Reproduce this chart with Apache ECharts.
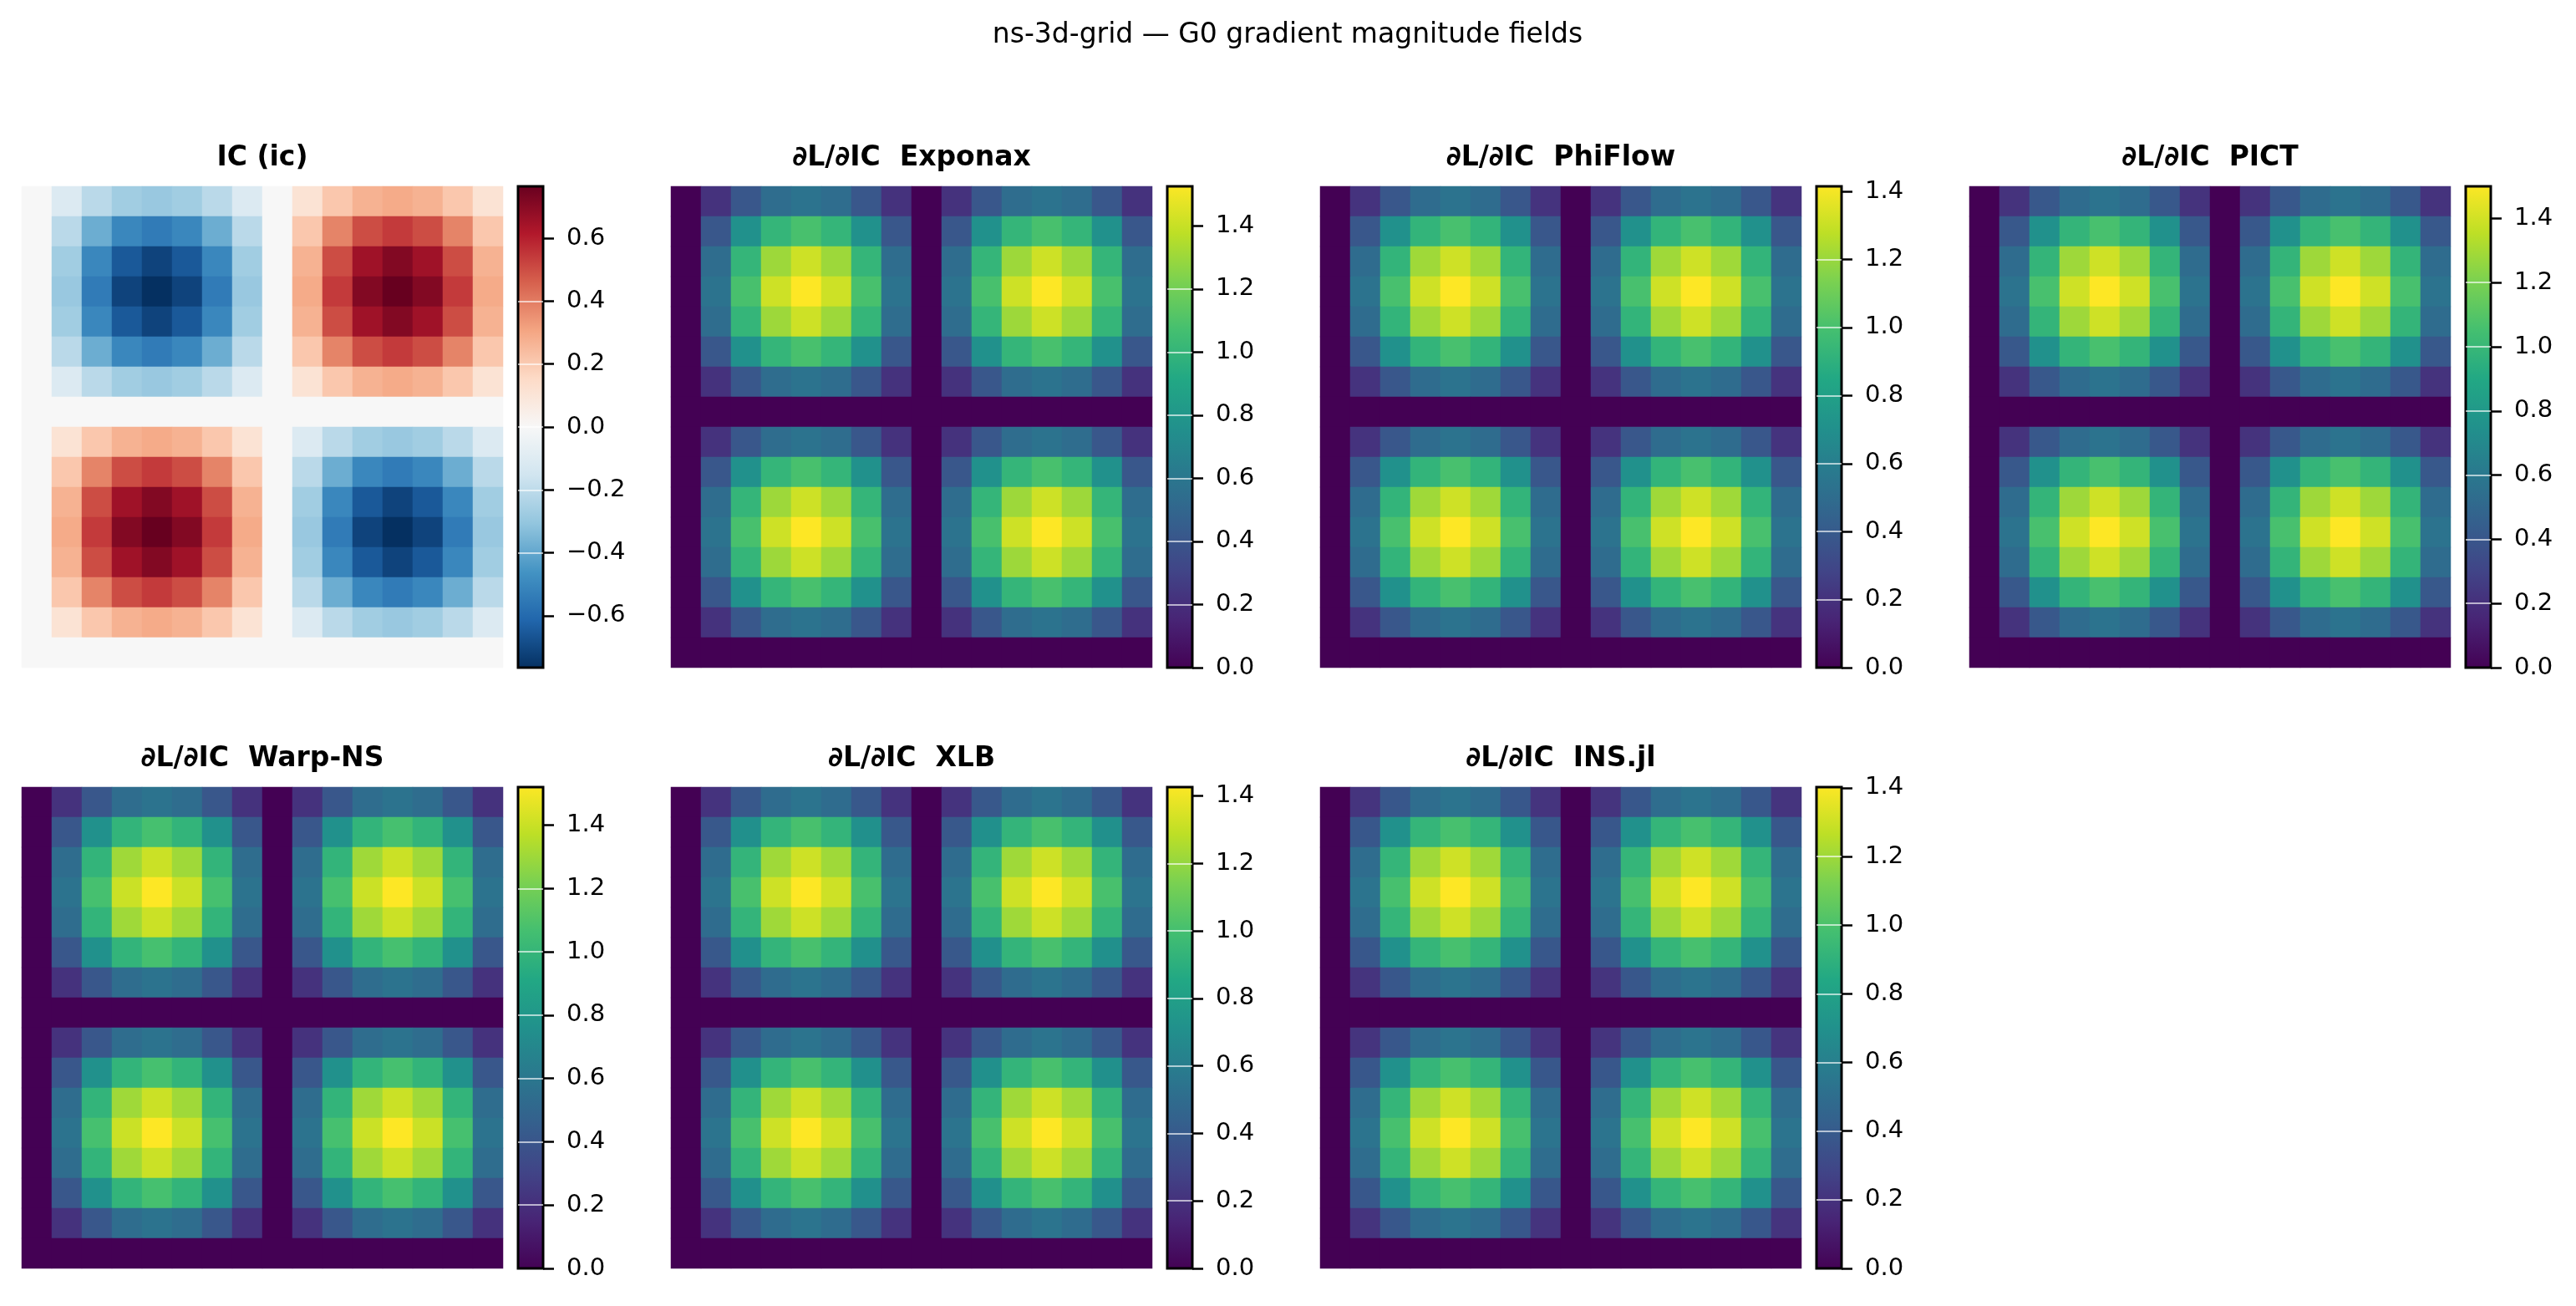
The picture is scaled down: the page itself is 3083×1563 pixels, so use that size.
<!DOCTYPE html>
<html>
<head>
<meta charset="utf-8">
<title>ns-3d-grid — G0 gradient magnitude fields</title>
<script src="https://cdn.jsdelivr.net/npm/echarts@6/dist/echarts.min.js"></script>
<style>
  html, body { margin: 0; padding: 0; background: #fff; }
  #chart { width: 3083px; height: 1563px; }
</style>
</head>
<body>
<div id="chart"></div>
<script>
const suptitle = 'ns-3d-grid — G0 gradient magnitude fields';

const panelTitles = [
  'IC (ic)',
  '∂L/∂IC  Exponax',
  '∂L/∂IC  PhiFlow',
  '∂L/∂IC  PICT',
  '∂L/∂IC  Warp-NS',
  '∂L/∂IC  XLB',
  '∂L/∂IC  INS.jl'
];

// colour bar ranges
const panelMin = [-0.765, 0, 0, 0, 0, 0, 0];
const panelMax = [0.765, 1.525, 1.415, 1.50, 1.52, 1.426, 1.402];

const icTicks = [-0.6, -0.4, -0.2, 0, 0.2, 0.4, 0.6];
const gradTicks = [0, 0.2, 0.4, 0.6, 0.8, 1.0, 1.2, 1.4];

// IC: 7x7 bumps, blue (negative) top-left / bottom-right, red top-right / bottom-left
const icBlueTile = [
  [-0.11, -0.21, -0.27, -0.29, -0.27, -0.21, -0.11],
  [-0.21, -0.38, -0.50, -0.54, -0.50, -0.38, -0.21],
  [-0.27, -0.50, -0.65, -0.71, -0.65, -0.50, -0.27],
  [-0.29, -0.54, -0.71, -0.765, -0.71, -0.54, -0.29],
  [-0.27, -0.50, -0.65, -0.71, -0.65, -0.50, -0.27],
  [-0.21, -0.38, -0.50, -0.54, -0.50, -0.38, -0.21],
  [-0.11, -0.21, -0.27, -0.29, -0.27, -0.21, -0.11]
];
const icRedTile = [
  [0.11, 0.21, 0.27, 0.29, 0.27, 0.21, 0.11],
  [0.21, 0.38, 0.50, 0.54, 0.50, 0.38, 0.21],
  [0.27, 0.50, 0.65, 0.71, 0.65, 0.50, 0.27],
  [0.29, 0.54, 0.71, 0.765, 0.71, 0.54, 0.29],
  [0.27, 0.50, 0.65, 0.71, 0.65, 0.50, 0.27],
  [0.21, 0.38, 0.50, 0.54, 0.50, 0.38, 0.21],
  [0.11, 0.21, 0.27, 0.29, 0.27, 0.21, 0.11]
];

// gradient magnitude bumps (same in all four quadrants of a panel)
const exponaxTile = [
  [0.22, 0.41, 0.54, 0.58, 0.54, 0.41, 0.22],
  [0.41, 0.76, 1.00, 1.08, 1.00, 0.76, 0.41],
  [0.54, 1.00, 1.30, 1.41, 1.30, 1.00, 0.54],
  [0.58, 1.08, 1.41, 1.525, 1.41, 1.08, 0.58],
  [0.54, 1.00, 1.30, 1.41, 1.30, 1.00, 0.54],
  [0.41, 0.76, 1.00, 1.08, 1.00, 0.76, 0.41],
  [0.22, 0.41, 0.54, 0.58, 0.54, 0.41, 0.22]
];
const phiflowTile = [
  [0.21, 0.38, 0.50, 0.54, 0.50, 0.38, 0.21],
  [0.38, 0.71, 0.92, 1.00, 0.92, 0.71, 0.38],
  [0.50, 0.92, 1.21, 1.31, 1.21, 0.92, 0.50],
  [0.54, 1.00, 1.31, 1.415, 1.31, 1.00, 0.54],
  [0.50, 0.92, 1.21, 1.31, 1.21, 0.92, 0.50],
  [0.38, 0.71, 0.92, 1.00, 0.92, 0.71, 0.38],
  [0.21, 0.38, 0.50, 0.54, 0.50, 0.38, 0.21]
];
const pictTile = [
  [0.22, 0.41, 0.53, 0.57, 0.53, 0.41, 0.22],
  [0.41, 0.75, 0.98, 1.06, 0.98, 0.75, 0.41],
  [0.53, 0.98, 1.28, 1.39, 1.28, 0.98, 0.53],
  [0.57, 1.06, 1.39, 1.50, 1.39, 1.06, 0.57],
  [0.53, 0.98, 1.28, 1.39, 1.28, 0.98, 0.53],
  [0.41, 0.75, 0.98, 1.06, 0.98, 0.75, 0.41],
  [0.22, 0.41, 0.53, 0.57, 0.53, 0.41, 0.22]
];
const warpTile = [
  [0.22, 0.41, 0.54, 0.58, 0.54, 0.41, 0.22],
  [0.41, 0.76, 0.99, 1.07, 0.99, 0.76, 0.41],
  [0.54, 0.99, 1.30, 1.40, 1.30, 0.99, 0.54],
  [0.58, 1.07, 1.40, 1.52, 1.40, 1.07, 0.58],
  [0.54, 0.99, 1.30, 1.40, 1.30, 0.99, 0.54],
  [0.41, 0.76, 0.99, 1.07, 0.99, 0.76, 0.41],
  [0.22, 0.41, 0.54, 0.58, 0.54, 0.41, 0.22]
];
const xlbTile = [
  [0.21, 0.39, 0.50, 0.55, 0.50, 0.39, 0.21],
  [0.39, 0.71, 0.93, 1.01, 0.93, 0.71, 0.39],
  [0.50, 0.93, 1.22, 1.32, 1.22, 0.93, 0.50],
  [0.55, 1.01, 1.32, 1.426, 1.32, 1.01, 0.55],
  [0.50, 0.93, 1.22, 1.32, 1.22, 0.93, 0.50],
  [0.39, 0.71, 0.93, 1.01, 0.93, 0.71, 0.39],
  [0.21, 0.39, 0.50, 0.55, 0.50, 0.39, 0.21]
];
const insTile = [
  [0.21, 0.38, 0.50, 0.54, 0.50, 0.38, 0.21],
  [0.38, 0.70, 0.92, 0.99, 0.92, 0.70, 0.38],
  [0.50, 0.92, 1.20, 1.30, 1.20, 0.92, 0.50],
  [0.54, 0.99, 1.30, 1.402, 1.30, 0.99, 0.54],
  [0.50, 0.92, 1.20, 1.30, 1.20, 0.92, 0.50],
  [0.38, 0.70, 0.92, 0.99, 0.92, 0.70, 0.38],
  [0.21, 0.38, 0.50, 0.54, 0.50, 0.38, 0.21]
];

// quadrant layout of each 16x16 field: [[top-left, top-right], [bottom-left, bottom-right]]
const panelQuads = [
  [[icBlueTile, icRedTile], [icRedTile, icBlueTile]],
  [[exponaxTile, exponaxTile], [exponaxTile, exponaxTile]],
  [[phiflowTile, phiflowTile], [phiflowTile, phiflowTile]],
  [[pictTile, pictTile], [pictTile, pictTile]],
  [[warpTile, warpTile], [warpTile, warpTile]],
  [[xlbTile, xlbTile], [xlbTile, xlbTile]],
  [[insTile, insTile], [insTile, insTile]]
];

const gridN = 16;
const tileRowStart = [0, 8];
const tileColStart = [1, 9];

const viridis = ['#440154', '#482475', '#414487', '#355f8d', '#2a788e', '#21918c',
  '#22a884', '#44bf70', '#7ad151', '#bddf26', '#fde725'];
const rdbuR = ['#053061', '#2166ac', '#4393c3', '#92c5de', '#d1e5f0', '#f7f7f7',
  '#fddbc7', '#f4a582', '#d6604d', '#b2182b', '#67001f'];

const FONT = 'DejaVu Sans';

const buildField = quads => {
  const cells = [];
  for (let r = 0; r < gridN; r++) {
    for (let c = 0; c < gridN; c++) {
      const qr = r < 8 ? 0 : 1;
      const qc = c < 8 ? 0 : 1;
      const tr = r - tileRowStart[qr];
      const tc = c - tileColStart[qc];
      let v = 0;
      if (tr >= 0 && tr < 7 && tc >= 0 && tc < 7) v = quads[qr][qc][tr][tc];
      cells.push([c, r, v]);
    }
  }
  return cells;
};

const gradientFill = colors =>
  new echarts.graphic.LinearGradient(0, 1, 0, 0,
    colors.map((c, i) => ({ offset: i / (colors.length - 1), color: c })));

const chart = echarts.init(document.getElementById('chart'), null, { renderer: 'canvas' });

// 16 cells of 36px each keeps cell edges on whole pixels (no seams)
const colLefts = [26, 803, 1580, 2357];
const rowTops = [223, 942];
const heatSize = 576;

const idx = Array.from({ length: gridN }, (_, i) => String(i));

const grid = [], xAxis = [], yAxis = [], series = [], visualMap = [];
const title = [{
  text: suptitle,
  left: 1541,
  top: 26,
  padding: 0,
  textAlign: 'center',
  textStyle: { fontFamily: FONT, fontSize: 33, fontWeight: 'normal', color: '#000' }
}];

panelTitles.forEach((name, i) => {
  const left = colLefts[i % 4];
  const top = rowTops[Math.floor(i / 4)];
  const colors = i === 0 ? rdbuR : viridis;
  const ticks = i === 0 ? icTicks : gradTicks;

  title.push({
    text: name,
    left: left + heatSize / 2,
    top: top - 50,
    padding: 0,
    textAlign: 'center',
    textStyle: { fontFamily: FONT, fontSize: 33, fontWeight: 'bold', color: '#000' }
  });

  // heatmap grid
  grid.push({ left, top, width: heatSize, height: heatSize, containLabel: false });
  xAxis.push({ gridIndex: 2 * i, type: 'category', data: idx, show: false });
  yAxis.push({ gridIndex: 2 * i, type: 'category', data: idx, inverse: true, show: false });
  series.push({
    type: 'heatmap',
    xAxisIndex: 2 * i,
    yAxisIndex: 2 * i,
    data: buildField(panelQuads[i]),
    itemStyle: { borderWidth: 0 },
    emphasis: { disabled: true },
    silent: true
  });
  visualMap.push({
    type: 'continuous',
    show: false,
    seriesIndex: i,
    dimension: 2,
    min: panelMin[i],
    max: panelMax[i],
    inRange: { color: colors }
  });

  // colorbar grid
  grid.push({
    left: left + 594,
    top,
    width: 30,
    height: heatSize,
    show: true,
    backgroundColor: gradientFill(colors),
    borderColor: '#000',
    borderWidth: 3
  });
  xAxis.push({ gridIndex: 2 * i + 1, type: 'category', data: [''], show: false });
  yAxis.push({
    gridIndex: 2 * i + 1,
    type: 'value',
    position: 'right',
    min: panelMin[i],
    max: panelMax[i],
    axisLine: { show: false },
    axisTick: {
      show: true,
      inside: false,
      length: 13,
      customValues: ticks,
      lineStyle: { color: '#000', width: 2.5 }
    },
    axisLabel: {
      show: true,
      margin: 28,
      customValues: ticks,
      fontFamily: FONT,
      fontSize: 29,
      color: '#000',
      formatter: v => v.toFixed(1).replace('-', '\u2212')
    },
    splitLine: {
      show: true,
      showMinLine: false,
      showMaxLine: false,
      lineStyle: { color: 'rgba(255,255,255,0.85)', width: 1.5 }
    }
  });
});

chart.setOption({
  animation: false,
  backgroundColor: '#fff',
  title,
  grid,
  xAxis,
  yAxis,
  visualMap,
  series
});
</script>
</body>
</html>
